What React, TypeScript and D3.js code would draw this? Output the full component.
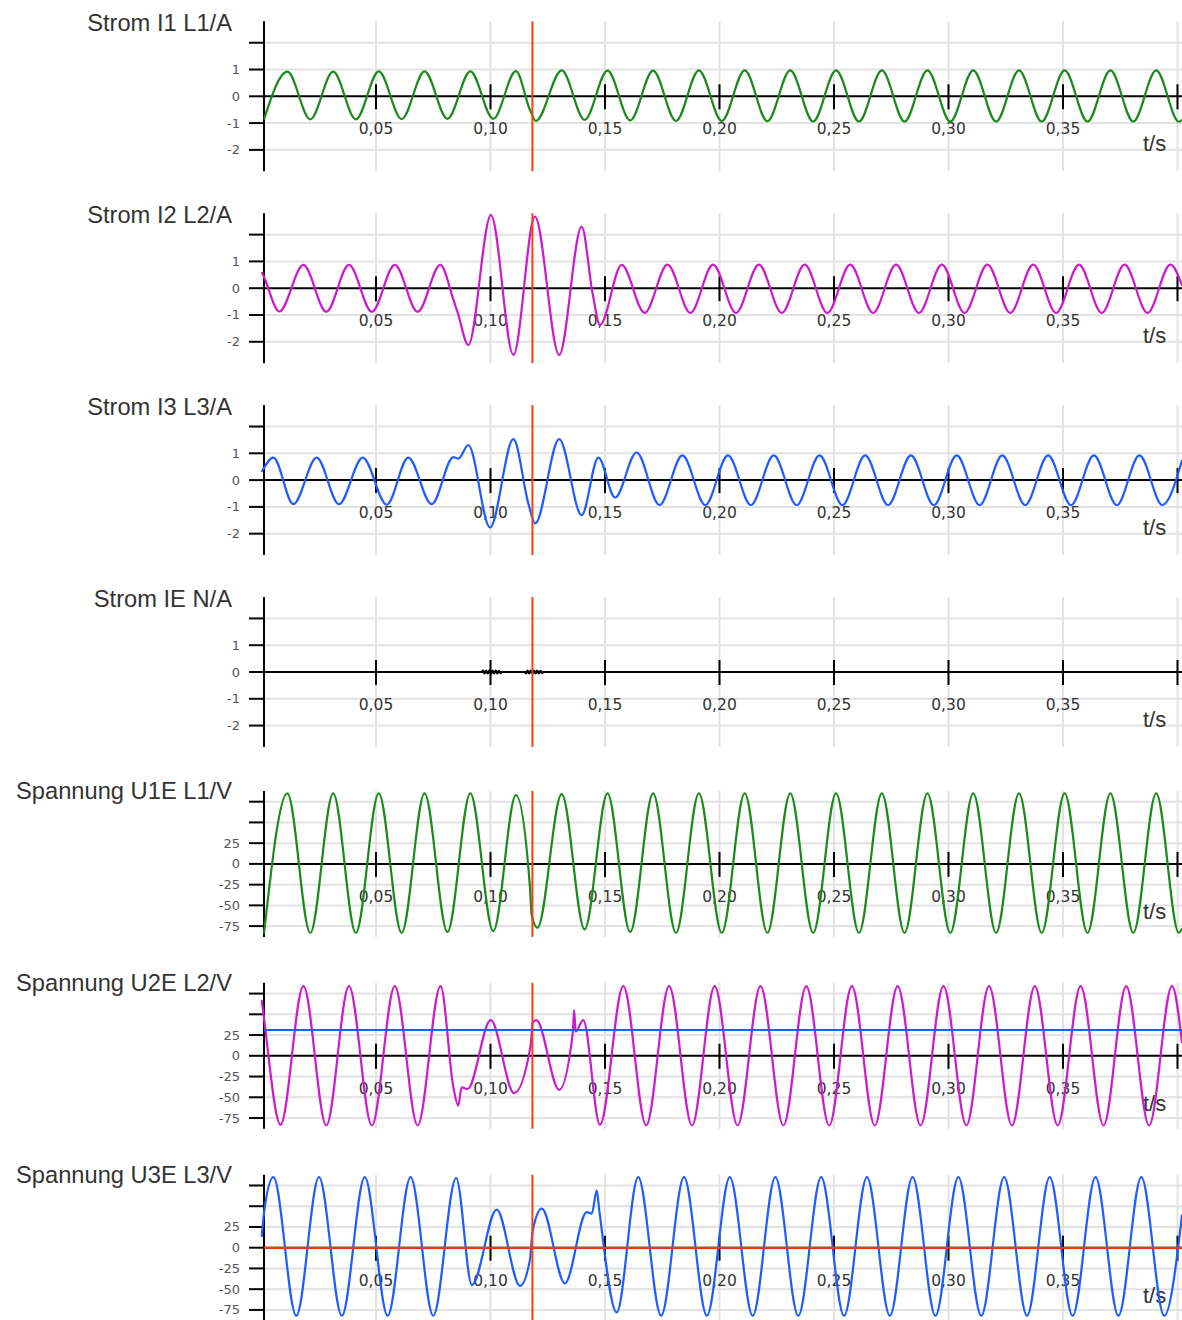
import React from 'react';
import * as d3 from 'd3';

type Pt = [number, number];

// time axis (seconds)
const timeTicks = [0.05, 0.1, 0.15, 0.2, 0.25, 0.3, 0.35, 0.4];
const timeLabels = ['0,05', '0,10', '0,15', '0,20', '0,25', '0,30', '0,35', ''];
const cursorTime = 0.1183;

// amplitude axes
const ampTicks = [2, 1, 0, -1, -2];
const ampLabels = ['', '1', '0', '-1', '-2'];
const voltTicks = [75, 50, 25, 0, -25, -50, -75];
const voltLabels = ['', '', '25', '0', '-25', '-50', '-75'];

const u2Threshold = 31;
const u3Reference = 0;

// [t/s, value] (peaks, troughs and kinks)
const i1: Pt[] = [
  [0.0011, -0.86], [0.0113, 0.92], [0.0213, -0.86], [0.0313, 0.92], [0.0412, -0.86], [0.0512, 0.93],
  [0.0612, -0.85], [0.0712, 0.93], [0.0812, -0.84], [0.0912, 0.93], [0.1012, -0.84], [0.1111, 0.94],
  [0.1172, -0.5], [0.1198, -0.92], [0.1311, 0.97], [0.1411, -0.88], [0.1511, 0.96], [0.161, -0.9],
  [0.171, 0.96], [0.181, -0.92], [0.191, 0.97], [0.201, -0.92], [0.211, 0.97], [0.2209, -0.93],
  [0.2309, 0.97], [0.2409, -0.94], [0.2509, 0.97], [0.2609, -0.94], [0.2709, 0.97], [0.2808, -0.94],
  [0.2908, 0.97], [0.3008, -0.94], [0.3108, 0.97], [0.3208, -0.94], [0.3308, 0.97], [0.3407, -0.94],
  [0.3507, 0.97], [0.3607, -0.94], [0.3707, 0.97], [0.3807, -0.94], [0.3907, 0.97], [0.4006, -0.95],
  [0.402, -0.88],
];

const i2: Pt[] = [
  [0.0001, 0.6], [0.0011, 0.42], [0.0078, -0.87], [0.0183, 0.87], [0.0283, -0.88], [0.0382, 0.87],
  [0.0482, -0.88], [0.0582, 0.87], [0.0682, -0.88], [0.0781, 0.87], [0.0837, -0.4], [0.0858, -0.95],
  [0.0903, -2.12], [0.1002, 2.73], [0.11, -2.49], [0.1194, 2.67], [0.13, -2.49], [0.1398, 2.3],
  [0.1446, -0.2], [0.1478, -1.37], [0.1573, 0.87], [0.1673, -0.92], [0.1773, 0.88], [0.1873, -0.92],
  [0.1972, 0.88], [0.2072, -0.92], [0.2172, 0.88], [0.2272, -0.92], [0.2372, 0.88], [0.2471, -0.92],
  [0.2571, 0.88], [0.2671, -0.92], [0.2771, 0.88], [0.2871, -0.92], [0.2971, 0.88], [0.307, -0.92],
  [0.317, 0.88], [0.327, -0.92], [0.337, 0.88], [0.347, -0.92], [0.357, 0.88], [0.3669, -0.92],
  [0.3769, 0.88], [0.3869, -0.92], [0.3969, 0.88], [0.402, 0.1],
];

const i3: Pt[] = [
  [0.0001, 0.31], [0.0052, 0.84], [0.0139, -0.9], [0.0241, 0.84], [0.0338, -0.9], [0.0442, 0.84],
  [0.0547, -0.92], [0.0641, 0.84], [0.0743, -0.9], [0.0838, 0.86], [0.086, 0.8], [0.0903, 1.31],
  [0.0998, -1.77], [0.11, 1.53], [0.1166, -0.9], [0.1195, -1.62], [0.13, 1.53], [0.1398, -1.31],
  [0.1471, 0.84], [0.1544, -0.65], [0.1638, 1.03], [0.1738, -0.93], [0.1838, 0.92], [0.1938, -0.93],
  [0.2037, 0.92], [0.2137, -0.93], [0.2237, 0.92], [0.2337, -0.93], [0.2437, 0.92], [0.2537, -0.93],
  [0.2636, 0.92], [0.2736, -0.93], [0.2836, 0.92], [0.2936, -0.93], [0.3036, 0.92], [0.3136, -0.93],
  [0.3235, 0.92], [0.3335, -0.93], [0.3435, 0.92], [0.3535, -0.93], [0.3635, 0.92], [0.3735, -0.93],
  [0.3834, 0.92], [0.3934, -0.93], [0.402, 0.75],
];

const ie: Pt[] = [
  [0.0011, 0], [0.096, 0], [0.0967, 0.05], [0.0974, -0.05], [0.0981, 0.05], [0.0988, -0.05],
  [0.0995, 0.05], [0.1002, -0.05], [0.1009, 0.05], [0.1016, -0.05], [0.1023, 0.05], [0.103, -0.05],
  [0.1037, 0.04], [0.1044, -0.04], [0.1049, 0], [0.1148, 0], [0.1155, -0.05], [0.1162, 0.05],
  [0.1169, -0.05], [0.1176, 0.05], [0.1183, -0.05], [0.119, 0.05], [0.1197, -0.05], [0.1204, 0.05],
  [0.1211, -0.05], [0.1218, 0.04], [0.1225, -0.04], [0.1231, 0], [0.402, 0],
];

const u1: Pt[] = [
  [0.0011, -84], [0.0113, 85], [0.0213, -83], [0.0313, 85], [0.0412, -83], [0.0512, 85], [0.0612, -83],
  [0.0712, 85], [0.0812, -82], [0.0912, 85], [0.1012, -81], [0.1111, 83], [0.1172, -27], [0.118, -62],
  [0.1205, -77], [0.1311, 84], [0.1411, -79], [0.1511, 85], [0.161, -82], [0.171, 85], [0.181, -83],
  [0.191, 85], [0.201, -83], [0.211, 85], [0.2209, -83], [0.2309, 85], [0.2409, -83], [0.2509, 85],
  [0.2609, -83], [0.2709, 85], [0.2808, -83], [0.2908, 85], [0.3008, -83], [0.3108, 85], [0.3208, -83],
  [0.3308, 85], [0.3407, -83], [0.3507, 85], [0.3607, -83], [0.3707, 85], [0.3807, -83], [0.3907, 85],
  [0.4006, -83], [0.402, -78],
];

const u2: Pt[] = [
  [0.0001, 67], [0.0011, 45], [0.0083, -83], [0.0183, 84], [0.0283, -84], [0.0382, 84], [0.0482, -84],
  [0.0582, 84], [0.0682, -84], [0.0782, 84], [0.0838, -38], [0.0859, -60], [0.0874, -38], [0.09, -40],
  [0.1001, 43], [0.1103, -45], [0.1175, 12], [0.1185, 40], [0.12, 43], [0.13, -41], [0.136, 29],
  [0.1365, 55], [0.1372, 29], [0.1405, 43], [0.1478, -83], [0.158, 84], [0.168, -84], [0.178, 84],
  [0.188, -84], [0.1979, 84], [0.2079, -84], [0.2179, 84], [0.2279, -84], [0.2379, 84], [0.2479, -84],
  [0.2578, 84], [0.2678, -84], [0.2778, 84], [0.2878, -84], [0.2978, 84], [0.3078, -84], [0.3177, 84],
  [0.3277, -84], [0.3377, 84], [0.3477, -84], [0.3577, 84], [0.3677, -84], [0.3776, 84], [0.3876, -84],
  [0.3976, 84], [0.402, 15],
];

const u3: Pt[] = [
  [0.0001, 13], [0.0011, 42], [0.0052, 85], [0.0152, -82], [0.0251, 85], [0.0351, -82], [0.0451, 85],
  [0.0551, -82], [0.0651, 85], [0.075, -82], [0.085, 84], [0.0919, -45], [0.1027, 46], [0.1129, -46],
  [0.1172, -15], [0.1184, 20], [0.1224, 47], [0.1325, -43], [0.142, 43], [0.1442, 41], [0.1464, 69],
  [0.1475, 45], [0.1551, -78], [0.1645, 85], [0.1745, -82], [0.1845, 85], [0.1945, -82], [0.2045, 85],
  [0.2145, -82], [0.2244, 85], [0.2344, -82], [0.2444, 85], [0.2544, -82], [0.2644, 85], [0.2744, -82],
  [0.2843, 85], [0.2943, -82], [0.3043, 85], [0.3143, -82], [0.3243, 85], [0.3343, -82], [0.3442, 85],
  [0.3542, -82], [0.3642, 85], [0.3742, -82], [0.3842, 85], [0.3942, -82], [0.402, 40],
];

const GREEN = '#1a8a1a';
const MAGENTA = '#cc1acc';
const BLUE = '#1f5cff';
const RED = '#ff3d0d';

const panels = [
  { title: 'Strom I1 L1/A', data: i1, color: GREEN, volt: false },
  { title: 'Strom I2 L2/A', data: i2, color: MAGENTA, volt: false },
  { title: 'Strom I3 L3/A', data: i3, color: BLUE, volt: false },
  { title: 'Strom IE N/A', data: ie, color: '#000', volt: false },
  { title: 'Spannung U1E L1/V', data: u1, color: GREEN, volt: true },
  { title: 'Spannung U2E L2/V', data: u2, color: MAGENTA, volt: true, hline: { v: u2Threshold, color: BLUE } },
  { title: 'Spannung U3E L3/V', data: u3, color: BLUE, volt: true, hline: { v: u3Reference, color: RED } },
];

const W = 1182;
const H = 1320;
const axisX = 264;
const rightX = 1182;
const firstZero = 96.3;
const pitch = 191.9;

const x = d3.scaleLinear().domain([0, 0.4]).range([261.5, 1177.5]);

const titleFont = '"Liberation Sans", Arial, sans-serif';
const tickFont = '"DejaVu Sans", Verdana, sans-serif';

function Panel({ idx, p }: { idx: number; p: any }) {
  const zero = firstZero + idx * pitch;
  const half = p.volt ? 73 : 75;
  const dom = p.volt ? 88 : 2.8;
  const y = d3.scaleLinear().domain([-dom, dom]).range([zero + half, zero - half]);
  const top = y(dom);
  const bottom = y(-dom);
  const ticks = p.volt ? voltTicks : ampTicks;
  const labels = p.volt ? voltLabels : ampLabels;
  const line = d3.line<Pt>().x(d => x(d[0])).y(d => y(d[1])).curve(d3.curveMonotoneX);

  return (
    <g>
      {/* grid */}
      {ticks.filter(t => t !== 0).map(t => (
        <line key={'h' + t} x1={axisX} x2={rightX} y1={y(t)} y2={y(t)} stroke="#e2e2e2" strokeWidth={2} />
      ))}
      {timeTicks.map(t => (
        <line key={'v' + t} x1={x(t)} x2={x(t)} y1={top} y2={bottom} stroke="#e2e2e2" strokeWidth={2} />
      ))}

      {/* axes */}
      <line x1={axisX} x2={axisX} y1={top} y2={bottom} stroke="#000" strokeWidth={2} />
      {ticks.map(t => (
        <line key={'yt' + t} x1={249} x2={axisX} y1={y(t)} y2={y(t)} stroke="#000" strokeWidth={2} />
      ))}
      <line x1={axisX} x2={rightX} y1={y(0)} y2={y(0)} stroke="#000" strokeWidth={2} />
      {timeTicks.map(t => (
        <line key={'xt' + t} x1={x(t)} x2={x(t)} y1={zero - 12} y2={zero + 13} stroke="#000" strokeWidth={2} />
      ))}

      {/* labels */}
      <text x={232} y={zero - 65} textAnchor="end" fontFamily={titleFont} fontSize={23.7} fill="#333">
        {p.title}
      </text>
      {ticks.map((t, i) => (
        <text key={'yl' + t} x={240} y={y(t) + 4.5} textAnchor="end" fontFamily={tickFont} fontSize={13} fill="#555">
          {labels[i]}
        </text>
      ))}
      {timeTicks.map((t, i) => (
        <text key={'xl' + t} x={x(t)} y={zero + 38} textAnchor="middle" fontFamily={tickFont} fontSize={15.5} fill="#333">
          {timeLabels[i]}
        </text>
      ))}
      <text x={1143} y={zero + 55} fontFamily={titleFont} fontSize={22} fill="#333">t/s</text>

      {/* signal */}
      <path d={line(p.data) || ''} fill="none" stroke={p.color} strokeWidth={2.2} strokeLinejoin="round" />
      {p.hline && (
        <line x1={axisX} x2={rightX} y1={y(p.hline.v)} y2={y(p.hline.v)} stroke={p.hline.color} strokeWidth={2} />
      )}

      {/* cursor */}
      <line x1={x(cursorTime)} x2={x(cursorTime)} y1={top} y2={bottom} stroke={RED} strokeWidth={2} />
    </g>
  );
}

export default function App() {
  return (
    <svg
      width={W}
      height={H}
      style={{ position: 'absolute', left: 0, top: 0, background: '#fff' }}
    >
      <rect width={W} height={H} fill="#fff" />
      {panels.map((p, i) => (
        <Panel key={p.title} idx={i} p={p} />
      ))}
    </svg>
  );
}
